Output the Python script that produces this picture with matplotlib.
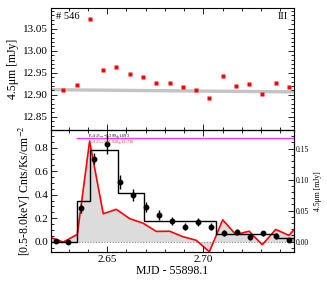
import numpy as np
import matplotlib
matplotlib.use("Agg")
import matplotlib.pyplot as plt
from matplotlib.ticker import MultipleLocator, FormatStrFormatter

plt.rcParams['font.family'] = ['Liberation Serif', 'DejaVu Serif']
plt.rcParams['mathtext.fontset'] = 'stix'

# ---------------- data ----------------
# 4.5 micron light curve (MJD - 55898.1, mJy); first/last points lie just outside the view
ir_time = [2.6202, 2.6271, 2.6344, 2.6408, 2.6479, 2.6547, 2.6617, 2.6686, 2.6755,
           2.6825, 2.6894, 2.6964, 2.7031, 2.7101, 2.7169, 2.7238, 2.7307, 2.7377,
           2.7446, 2.7515]
ir_flux = [12.9185, 12.9107, 12.9227, 13.0727, 12.9554, 12.9623, 12.9470, 12.9395,
           12.9259, 12.9259, 12.9168, 12.9107, 12.8918, 12.9432, 12.9191, 12.9243,
           12.9023, 12.9266, 12.9168, 12.9410]
# baseline (grey band) end points
base_time = [2.6207, 2.7472]
base_flux = [12.9115, 12.9065]

# X-ray light curve [0.5-8.0 keV] Cnts/Ks/cm^-2
xr_time = [2.6231, 2.6297, 2.6365, 2.6432, 2.6500, 2.6566, 2.6635, 2.6702, 2.6771,
           2.6837, 2.6906, 2.6974, 2.7042, 2.7109, 2.7177, 2.7245, 2.7312, 2.7380,
           2.7448]
xr_rate = [0.006, 0.000, 0.284, 0.706, 0.829, 0.505, 0.395, 0.295, 0.227, 0.176,
           0.128, 0.168, 0.128, 0.071, 0.080, 0.037, 0.071, 0.048, 0.014]
xr_err = [0.012, 0.012, 0.040, 0.045, 0.080, 0.060, 0.050, 0.045, 0.040, 0.035,
          0.030, 0.035, 0.030, 0.025, 0.025, 0.022, 0.022, 0.022, 0.018]

# Bayesian-block style step levels
blk_edges = [2.6207, 2.6344, 2.6410, 2.6557, 2.6693, 2.7066, 2.7382, 2.7472]
blk_rate = [0.000, 0.346, 0.780, 0.412, 0.175, 0.065, 0.028]

ratio_y = 0.88
ratio_x0 = 2.6344
ratio_text1 = r"F$_{X}$/f$_{4.5\mu m}$=5.399$\pm$1.693"
ratio_text2 = r"F$_{X}$/f$_{4.5\mu m}$=42.930$\pm$11.710"

xlim = (2.6207, 2.7472)

# ---------------- figure ----------------
fig = plt.figure(figsize=(3.27, 2.86), dpi=100)
L, W = 51 / 327, 243 / 327
axt = fig.add_axes([L, (286 - 130) / 286, W, 122 / 286])
axb = fig.add_axes([L, (286 - 252) / 286, W, 122 / 286])
axr = axb.twinx()
axb.set_zorder(axr.get_zorder() + 1)
axb.patch.set_visible(False)

ir_time_a = np.array(ir_time)
ir_flux_a = np.array(ir_flux)
# linear baseline (extrapolated beyond its end points)
slope = (base_flux[1] - base_flux[0]) / (base_time[1] - base_time[0])
base_at = base_flux[0] + slope * (ir_time_a - base_time[0])
ir_rel = ir_flux_a - base_at

# top panel
vis = (ir_time_a >= xlim[0]) & (ir_time_a <= xlim[1])
axt.plot(base_time, base_flux, color='#c4c4c4', lw=2.4, solid_capstyle='butt', zorder=1)
axt.plot(ir_time_a[vis], ir_flux_a[vis], ls='none', marker='s', ms=2.6,
         color='#ff0000', mec='none', zorder=3)
axt.set_xlim(*xlim)
axt.set_ylim(12.82, 13.097)
axt.yaxis.set_major_locator(MultipleLocator(0.05))
axt.yaxis.set_minor_locator(MultipleLocator(0.01))
axt.yaxis.set_major_formatter(FormatStrFormatter('%.2f'))
axt.xaxis.set_major_locator(MultipleLocator(0.05))
axt.xaxis.set_minor_locator(MultipleLocator(0.01))
axt.set_xticklabels([])
axt.set_ylabel(u"4.5\u03bcm [mJy]", fontsize=8.5, labelpad=3)
axt.text(0.022, 0.965, "# 546", transform=axt.transAxes, fontsize=7.5,
         ha='left', va='top')
axt.text(0.975, 0.965, "III", transform=axt.transAxes, fontsize=7.5,
         ha='right', va='top')

# right axis (IR relative flux)
axr.fill_between(ir_time_a, ir_rel, 0, color='#dcdcdc', lw=0, zorder=1)
axr.plot(ir_time_a, ir_rel, color='#ff0000', lw=1.2, zorder=2)
axr.axhline(0, color='#888888', lw=0.8, ls=(0, (1, 1.5)), zorder=1.5)
axr.set_ylim(-0.0166, 0.180)
axr.yaxis.set_major_locator(MultipleLocator(0.05))
axr.yaxis.set_minor_locator(MultipleLocator(0.01))
axr.yaxis.set_major_formatter(FormatStrFormatter('%.2f'))
axr.set_ylabel(u"4.5\u03bcm [mJy]", fontsize=5.5, labelpad=3)

# bottom panel
axb.stairs(blk_rate, blk_edges, color='black', lw=1.0, zorder=3)
axb.errorbar(xr_time, xr_rate, yerr=xr_err, fmt='o', ms=3.2, color='black',
             ecolor='black', elinewidth=1.0, capsize=0, zorder=4)
axb.plot([ratio_x0, xlim[1]], [ratio_y, ratio_y], color='#ff33ff', lw=1.0, zorder=2)
axb.text(2.6400, 0.905, ratio_text1, fontsize=3.2, color='black',
         ha='left', va='center', zorder=5)
axb.text(2.6400, 0.855, ratio_text2, fontsize=3.2, color='#ff3030',
         ha='left', va='center', zorder=5)
axb.set_xlim(*xlim)
axb.set_ylim(-0.088, 0.95)
axb.yaxis.set_major_locator(MultipleLocator(0.2))
axb.yaxis.set_minor_locator(MultipleLocator(0.05))
axb.yaxis.set_major_formatter(FormatStrFormatter('%.1f'))
axb.xaxis.set_major_locator(MultipleLocator(0.05))
axb.xaxis.set_minor_locator(MultipleLocator(0.01))
axb.xaxis.set_major_formatter(FormatStrFormatter('%.2f'))
axb.set_ylabel(r"[0.5-8.0keV] Cnts/Ks/cm$^{-2}$", fontsize=8.5, labelpad=2)
axb.set_xlabel("MJD - 55898.1", fontsize=8.5, labelpad=1)

for a in (axt, axb):
    a.tick_params(which='both', direction='in', top=True, right=(a is axt),
                  labelsize=8, width=0.6, pad=2)
    a.tick_params(which='major', length=4)
    a.tick_params(which='minor', length=2)
axr.tick_params(which='both', direction='in', labelsize=5.5, width=0.6, pad=1.5)
axr.tick_params(which='major', length=4)
axr.tick_params(which='minor', length=2)
for a in (axt, axb, axr):
    for s in a.spines.values():
        s.set_linewidth(0.8)

fig.savefig("out.png", dpi=100)
